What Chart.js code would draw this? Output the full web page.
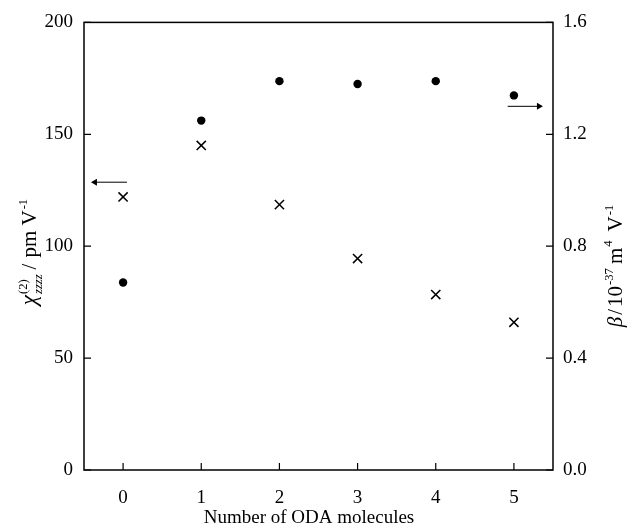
<!DOCTYPE html>
<html>
<head>
<meta charset="utf-8">
<script src="https://cdn.jsdelivr.net/npm/chart.js@4.4.1/dist/chart.umd.min.js"></script>
<style>
   body { margin: 0; background: #fff; }
</style>
</head>
<body>
<canvas id="odaChart" width="629" height="526"></canvas>
<script>
//1) DATA//
var oda = [0, 1, 2, 3, 4, 5]
var chiValues = [122, 145, 118.6, 94.5, 78.4, 66]          // pm V-1, left axis (crosses)
var betaValues = [0.67, 1.249, 1.39, 1.38, 1.39, 1.339]    // 10^-37 m4 V-1, right axis (dots)
var xTicks = [0, 1, 2, 3, 4, 5]
var chiTicks = [0, 50, 100, 150, 200]
var betaTicks = [0.0, 0.4, 0.8, 1.2, 1.6]
// arrows telling which axis belongs to which series
var chiArrow = [{ x: 0.05, y: 128.6 }, { x: -0.36, y: 128.6 }]
var betaArrow = [{ x: 4.92, y: 1.30 }, { x: 5.32, y: 1.30 }]

var FONT = '"Liberation Serif", "Times New Roman", serif'
var FS = 19
var FS_T = 21

//2) HELPERS//
// draws text made of pieces (italic, super/subscript), rotated -90deg
function drawRich(ctx, parts, baseX, centerY, size) {
   var w = 0, items = [], prevStart = 0, prevW = 0
   parts.forEach(p => {
      var fs = size * (p.s || 1)
      var font = (p.i ? 'italic ' : '') + fs + 'px ' + FONT
      ctx.font = font
      var pw = ctx.measureText(p.t).width
      if (p.stack) {
         items.push({ p: p, font: font, x: prevStart })
         w = prevStart + Math.max(prevW, pw)
      } else {
         w += (p.gap || 0)
         items.push({ p: p, font: font, x: w })
         prevStart = w
         prevW = pw
         w += pw
      }
   })
   ctx.save()
   ctx.translate(baseX, centerY)
   ctx.rotate(-Math.PI / 2)
   ctx.fillStyle = '#000'
   ctx.textBaseline = 'alphabetic'
   ctx.textAlign = 'left'
   items.forEach(it => {
      ctx.font = it.font
      ctx.fillText(it.p.t, it.x - w / 2, (it.p.dy || 0) * size)
   })
   ctx.restore()
}

//3) FRAME, INWARD TICKS AND TITLES//
var framePlugin = {
   id: 'frame',
   afterDraw(chart) {
      var ctx = chart.ctx
      var a = chart.chartArea
      var sx = chart.scales.x, sy = chart.scales.y, sy2 = chart.scales.y2
      var tl = 7
      ctx.save()
      ctx.strokeStyle = '#000'
      ctx.lineWidth = 1.5
      ctx.strokeRect(a.left, a.top, a.right - a.left, a.bottom - a.top)
      ctx.lineWidth = 1.2
      ctx.beginPath()
      xTicks.forEach(v => {
         var px = sx.getPixelForValue(v)
         ctx.moveTo(px, a.bottom)
         ctx.lineTo(px, a.bottom - tl)
      })
      chiTicks.forEach(v => {
         var py = sy.getPixelForValue(v)
         ctx.moveTo(a.left, py)
         ctx.lineTo(a.left + tl, py)
      })
      betaTicks.forEach(v => {
         var py = sy2.getPixelForValue(v)
         ctx.moveTo(a.right, py)
         ctx.lineTo(a.right - tl, py)
      })
      ctx.stroke()

      // x title
      ctx.fillStyle = '#000'
      ctx.font = FS + 'px ' + FONT
      ctx.textAlign = 'center'
      ctx.textBaseline = 'alphabetic'
      ctx.fillText('Number of ODA molecules', 309, 523)
      ctx.restore()

      // left title: chi(2)zzz / pm V-1
      drawRich(ctx, [
         { t: 'χ', i: true, s: 1.1 },
         { t: '(2)', s: 0.6, dy: -0.45, gap: 1 },
         { t: 'zzzz', i: true, s: 0.6, dy: 0.3, stack: true },
         { t: '/', gap: 5 },
         { t: 'pm V', gap: 6 },
         { t: '-1', s: 0.6, dy: -0.45, gap: 1 }
      ], 36, 252, FS_T)

      // right title: beta/10-37 m4 V-1
      drawRich(ctx, [
         { t: 'β', i: true },
         { t: '/', gap: 2 },
         { t: '10', gap: 2 },
         { t: '-37', s: 0.6, dy: -0.45, gap: 1 },
         { t: 'm', gap: 4 },
         { t: '4', s: 0.6, dy: -0.5, gap: 1 },
         { t: 'V', gap: 9 },
         { t: '-1', s: 0.6, dy: -0.45, gap: 1 }
      ], 622, 266, FS_T)
   }
}

//4) CHART//
var ctx = document.getElementById('odaChart').getContext('2d')
var odaChart = new Chart(ctx, {
   type: 'scatter',
   data: {
      datasets: [{
         label: 'chi',
         data: oda.map((x, i) => ({ x: x, y: chiValues[i] })),
         yAxisID: 'y',
         pointStyle: 'crossRot',
         pointRadius: 6.5,
         pointBorderWidth: 1.5,
         borderColor: '#000',
         backgroundColor: '#000'
      }, {
         label: 'beta',
         data: oda.map((x, i) => ({ x: x, y: betaValues[i] })),
         yAxisID: 'y2',
         pointStyle: 'circle',
         pointRadius: 4.2,
         pointBorderWidth: 0,
         borderColor: '#000',
         backgroundColor: '#000'
      }, {
         label: 'arrow chi',
         data: chiArrow,
         yAxisID: 'y',
         showLine: true,
         borderWidth: 1,
         borderColor: '#000',
         backgroundColor: '#000',
         pointStyle: 'triangle',
         pointRadius: [0, 4],
         pointRotation: [0, 270],
         pointBorderWidth: 0
      }, {
         label: 'arrow beta',
         data: betaArrow,
         yAxisID: 'y2',
         showLine: true,
         borderWidth: 1,
         borderColor: '#000',
         backgroundColor: '#000',
         pointStyle: 'triangle',
         pointRadius: [0, 4],
         pointRotation: [0, 90],
         pointBorderWidth: 0
      }]
   },
   options: {
      responsive: false,
      animation: false,
      layout: { padding: { top: 21, left: 0, right: 0, bottom: 0 } },
      plugins: {
         legend: { display: false },
         tooltip: { enabled: false }
      },
      scales: {
         x: {
            type: 'linear',
            min: -0.5,
            max: 5.5,
            afterBuildTicks: s => { s.ticks = xTicks.map(v => ({ value: v })) },
            afterFit: s => { s.height = 56 },
            grid: { display: false, drawTicks: false },
            border: { display: false },
            ticks: { color: '#000', font: { family: FONT, size: FS }, padding: 17 }
         },
         y: {
            position: 'left',
            min: 0,
            max: 200,
            afterBuildTicks: s => { s.ticks = chiTicks.map(v => ({ value: v })) },
            afterFit: s => { s.width = 84 },
            grid: { display: false, drawTicks: false },
            border: { display: false },
            ticks: { color: '#000', font: { family: FONT, size: FS }, padding: 11 }
         },
         y2: {
            position: 'right',
            min: 0,
            max: 1.6,
            afterBuildTicks: s => { s.ticks = betaTicks.map(v => ({ value: v })) },
            afterFit: s => { s.width = 76 },
            grid: { display: false, drawTicks: false },
            border: { display: false },
            ticks: {
               color: '#000',
               font: { family: FONT, size: FS },
               padding: 10,
               callback: v => Number(v).toFixed(1)
            }
         }
      }
   },
   plugins: [framePlugin]
});
</script>
</body>
</html>
